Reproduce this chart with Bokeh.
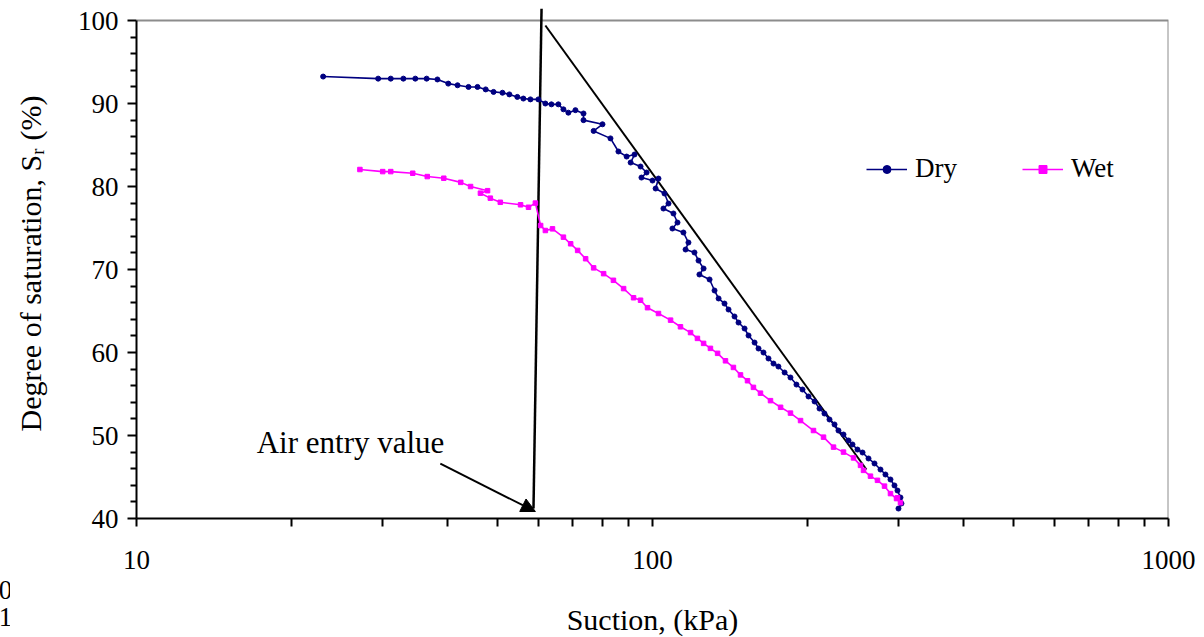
from bokeh.plotting import figure
from bokeh.layouts import row
from bokeh.models import (Range1d, FixedTicker, Legend, LegendItem, Arrow, NormalHead, Label, LinearAxis)
from bokeh.embed import file_html
from bokeh.resources import INLINE

# ---- data ----
dry_suction = [23.0, 29.4, 31.1, 32.9, 34.7, 36.5, 38.3, 40.2, 41.9, 44.0, 45.8, 47.5, 49.2, 51.2, 52.8,
               54.7, 56.2, 58.0, 60.1, 62.0, 63.7, 65.7, 67.2, 68.7, 70.9, 73.5, 73.5, 80.0, 76.9, 82.9,
               85.9, 89.1, 92.3, 90.7, 94.8, 97.4, 95.2, 100.0, 102.7, 101.4, 105.5, 107.4, 105.0, 109.8,
               111.8, 109.3, 114.8, 117.4, 115.9, 120.6, 122.8, 125.6, 123.3, 129.0, 131.9, 134.3, 137.9,
               140.4, 144.2, 146.8, 150.8, 153.5, 157.7, 160.5, 164.1, 167.8, 171.6, 175.4, 180.3, 185.1,
               190.1, 195.3, 200.6, 206.1, 210.7, 215.4, 220.3, 225.3, 229.3, 234.5, 239.8, 244.1, 249.6,
               255.3, 262.2, 269.3, 276.6, 282.8, 289.2, 294.4, 298.4, 302.4, 303.7, 299.7]
dry_sr = [93.25, 93.0, 93.0, 93.0, 93.0, 93.0, 92.9, 92.4, 92.2, 92.0, 92.0, 91.7, 91.4, 91.3, 91.1,
          90.8, 90.6, 90.5, 90.5, 90.0, 89.9, 89.9, 89.3, 88.9, 89.2, 88.8, 88.0, 87.5, 86.7, 85.8,
          84.22, 83.61, 83.86, 82.89, 82.41, 81.69, 81.08, 80.72, 80.96, 79.76, 79.16, 77.95, 77.35, 76.75,
          75.66, 74.94, 74.46, 73.25, 72.41, 72.05, 71.08, 70.12, 69.40, 68.80, 67.47, 66.51, 65.90,
          65.18, 64.34, 63.61, 62.89, 62.05, 61.20, 60.48, 60.00, 59.28, 58.67, 58.31, 57.59, 56.99,
          56.14, 55.54, 54.70, 54.10, 53.25, 52.65, 51.93, 51.33, 50.60, 50.12, 49.40, 48.92, 48.31,
          47.95, 47.23, 46.63, 45.90, 45.30, 44.70, 43.98, 43.37, 42.53, 41.81, 41.20]

wet_suction = [27.1, 30.0, 31.1, 34.3, 36.6, 39.4, 42.5, 44.4, 47.9, 46.4, 48.5, 50.7, 55.5, 57.5, 59.3,
               60.7, 62.0, 64.0, 67.2, 69.4, 71.6, 74.2, 76.9, 80.4, 84.0, 87.9, 91.9, 94.8, 97.8, 102.7,
               108.4, 113.3, 118.5, 122.2, 125.6, 129.5, 133.7, 138.5, 143.5, 148.1, 152.8, 156.9, 161.9,
               169.3, 177.1, 185.1, 193.6, 205.1, 214.5, 224.3, 234.5, 245.2, 253.0, 256.4, 264.5, 272.9,
               281.6, 289.2, 297.1, 302.4, 298.4]
wet_sr = [82.05, 81.8, 81.8, 81.6, 81.2, 81.0, 80.5, 80.0, 79.5, 79.2, 78.6, 78.1, 77.8, 77.5, 78.0,
          75.3, 74.7, 74.9, 73.9, 73.1, 72.3, 71.3, 70.2, 69.5, 68.7, 67.7, 66.6, 66.3, 65.4, 64.7,
          63.9, 63.1, 62.4, 61.7, 61.1, 60.5, 59.9, 59.0, 58.2, 57.3, 56.6, 55.8, 55.1,
          54.2, 53.4, 52.7, 51.8, 50.6, 49.8, 48.6, 48.0, 47.3, 46.4, 45.8, 45.1, 44.6,
          43.9, 43.0, 42.4, 41.9, 42.5]

# straight-line construction (tangent) and air-entry marker
tangent_x = [62.0, 259.8]
tangent_y = [99.4, 45.9]
aev_x = [60.95, 58.8]
aev_y = [101.45, 41.2]
arrow_from = (38.8, 46.6)
arrow_to = (59.3, 40.84)

x_ticks = [10, 100, 1000]
x_minor = [20, 30, 40, 50, 60, 70, 80, 90, 200, 300, 400, 500, 600, 700, 800, 900]
y_ticks = [40, 50, 60, 70, 80, 90, 100]
y_minor = [v for v in range(42, 100, 2) if v % 10 != 0]
stray_texts = ["0", "1"]

FONT = "Liberation Serif"

# narrow strip at the far left holding the stray characters seen in the reference
strip = figure(width=10, height=637, x_range=Range1d(0, 10), y_range=Range1d(0, 1),
               x_axis_type=None, y_axis_type=None, toolbar_location=None, output_backend="svg",
               min_border=0)
strip.outline_line_color = None
strip.background_fill_color = "white"
strip.border_fill_color = "white"
stray_axis = LinearAxis(ticker=FixedTicker(ticks=[]), axis_label="\n".join(stray_texts))
stray_axis.axis_line_color = None
stray_axis.major_tick_line_color = None
stray_axis.minor_tick_line_color = None
stray_axis.major_tick_out = 0
stray_axis.axis_label_standoff = 57
stray_axis.axis_label_text_font = FONT
stray_axis.axis_label_text_font_size = "27px"
stray_axis.axis_label_text_font_style = "normal"
stray_axis.axis_label_text_line_height = 0.93
stray_axis.axis_label_text_color = "black"
strip.add_layout(stray_axis, "below")

fig = figure(x_axis_type="log", output_backend="svg", toolbar_location=None,
             frame_width=1032, frame_height=510,
             min_border_left=126, min_border_right=36, min_border_top=8, min_border_bottom=119,
             x_range=Range1d(10, 1000), y_range=Range1d(40, 101.45))
fig.outline_line_color = None
fig.grid.visible = False
fig.background_fill_color = "white"
fig.border_fill_color = "white"

# plot box top/right borders (gray)
fig.line([10, 1000, 1000], [100, 100, 40], line_color="#8c8c8c", line_width=2)

for ax in (fig.xaxis[0], fig.yaxis[0]):
    ax.axis_line_color = "black"
    ax.axis_line_width = 2
    ax.major_tick_line_color = "black"
    ax.major_tick_line_width = 2
    ax.minor_tick_line_color = "black"
    ax.minor_tick_line_width = 2
    ax.major_tick_in = 0
    ax.minor_tick_in = 0
    ax.major_label_text_font = FONT
    ax.major_label_text_font_size = "27px"
    ax.major_label_text_color = "black"
    ax.axis_label_text_font = FONT
    ax.axis_label_text_font_size = "30px"
    ax.axis_label_text_font_style = "normal"
    ax.axis_label_text_color = "black"

fig.xaxis[0].ticker = FixedTicker(ticks=x_ticks, minor_ticks=x_minor)
fig.xaxis[0].major_label_overrides = {10: "10", 100: "100", 1000: "1000"}
fig.xaxis[0].major_tick_out = 8
fig.xaxis[0].minor_tick_out = 8
fig.xaxis[0].major_label_standoff = 24
fig.xaxis[0].axis_label = "Suction, (kPa)"
fig.xaxis[0].axis_label_standoff = 31

fig.yaxis[0].ticker = FixedTicker(ticks=y_ticks, minor_ticks=y_minor)
fig.yaxis[0].bounds = (40, 100)
fig.yaxis[0].major_tick_out = 9
fig.yaxis[0].minor_tick_out = 6
fig.yaxis[0].major_label_standoff = 9
fig.yaxis[0].axis_label = "Degree of saturation, S\u1d63 (%)"
fig.yaxis[0].axis_label_standoff = 28

# construction lines
fig.line(tangent_x, tangent_y, line_color="black", line_width=2)
fig.line(aev_x, aev_y, line_color="black", line_width=2.5)
fig.add_layout(Arrow(end=NormalHead(size=14, fill_color="black", line_color="black"),
                     x_start=arrow_from[0], y_start=arrow_from[1],
                     x_end=arrow_to[0], y_end=arrow_to[1], line_width=2, line_color="black"))
fig.add_layout(Label(x=arrow_from[0], y=arrow_from[1], text="Air entry value", text_font=FONT,
                     text_font_size="31px", text_align="right", text_baseline="bottom",
                     x_offset=4, y_offset=4, text_color="black"))

# series
dl = fig.line(dry_suction, dry_sr, line_color="#000080", line_width=1.6)
dm = fig.scatter(dry_suction, dry_sr, marker="circle", size=5, fill_color="#000080", line_color="#000080")
wl = fig.line(wet_suction, wet_sr, line_color="#FF00FF", line_width=1.6)
wm = fig.scatter(wet_suction, wet_sr, marker="square", size=4.5, fill_color="#FF00FF", line_color="#FF00FF")

legend = Legend(items=[LegendItem(label="Dry", renderers=[dl, dm]),
                       LegendItem(label="Wet", renderers=[wl, wm])],
                orientation="horizontal", location=(730, 334),
                label_text_font=FONT, label_text_font_size="27px", label_text_color="black",
                glyph_width=41, glyph_height=20, label_standoff=8, spacing=65,
                padding=0, margin=0, border_line_color=None, background_fill_alpha=0)
fig.add_layout(legend)

p = row(strip, fig, spacing=0)

open("out.html", "w").write(file_html(p, INLINE))
